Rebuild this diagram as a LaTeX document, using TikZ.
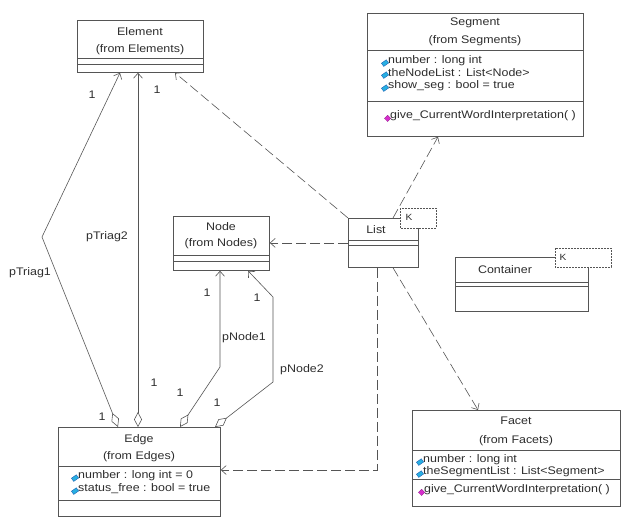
\documentclass[tikz,border=0pt]{standalone}
\usepackage{fontspec}
\setmainfont{Liberation Sans}[FakeStretch=1.13]
\usetikzlibrary{arrows.meta,positioning,calc}
\definecolor{linecolor}{RGB}{85,85,85}
\definecolor{textcolor}{RGB}{45,45,45}
\definecolor{attrcolor}{RGB}{40,175,225}
\definecolor{attrdark}{RGB}{20,80,170}
\definecolor{opcolor}{RGB}{215,45,205}
\tikzset{
  umltext/.style  = {font=\fontsize{11}{13}\selectfont, text=textcolor, inner sep=0pt},
  classbox/.style = {draw=linecolor, line width=0.8pt, fill=white, inner sep=0pt, anchor=north west},
  sep/.style      = {draw=linecolor, line width=0.8pt},
  tmpltab/.style  = {draw=linecolor, line width=0.6pt, dash pattern=on 2pt off 1pt, fill=white},
  attricon/.style = {rectangle, minimum width=6pt, minimum height=4pt, inner sep=0pt, rotate=35,
                     fill=attrcolor, draw=attrdark, line width=0.3pt},
  opicon/.style   = {rectangle, minimum size=4.5pt, inner sep=0pt, rotate=45,
                     fill=opcolor, draw=opcolor!70!black, line width=0.3pt},
  attr/.style     = {umltext, anchor=west, label={[attricon, label distance=0.5pt]left:{}}},
  oper/.style     = {umltext, anchor=west, label={[opicon, label distance=1pt]left:{}}},
  mult/.style     = {umltext},
  role/.style     = {umltext},
  assoc/.style    = {draw=linecolor, line width=0.6pt,
                     arrows={Diamond[open,length=15pt,width=8pt]-Straight Barb[length=5pt,width=9pt]}},
  dep/.style      = {draw=linecolor, line width=0.6pt, dash pattern=on 10pt off 4pt,
                     -{Straight Barb[length=5pt,width=9pt]}}
}
% horizontal compartment line of a class box, #2 below its top edge
\newcommand{\compsep}[2]{\draw[sep] ($(#1.north west)+(0,#2)$) -- ($(#1.north east)+(0,#2)$);}

\begin{document}
\begin{tikzpicture}[x=1pt,y=-1pt]
\useasboundingbox (0,0) rectangle (624,519);

% --- class boxes ---
\node[classbox, minimum width=126pt, minimum height=52pt] (element) at (77,20) {};
\compsep{element}{38} \compsep{element}{44}
\node[umltext] (elementname) at (140,32) {Element};
\node[umltext] (elementpkg)  at (140,50) {(from Elements)};

\node[classbox, minimum width=216pt, minimum height=123pt] (segment) at (367,13) {};
\compsep{segment}{37} \compsep{segment}{88}
\node[umltext] (segmentname) at (475,23) {Segment};
\node[umltext] (segmentpkg)  at (475,41) {(from Segments)};
\foreach \y/\txt [count=\i] in {61/{number : long int},
                                73/{theNodeList : List<Node>},
                                86/{show\_seg : bool = true}}{
  \node[attr] (segattr\i) at (388,\y) {\txt};
}
\node[oper] (segop) at (390,116) {give\_CurrentWordInterpretation( )};

\node[classbox, minimum width=96pt, minimum height=54pt] (node) at (173,216) {};
\compsep{node}{39} \compsep{node}{45}
\node[umltext] (nodename) at (221,227) {Node};
\node[umltext] (nodepkg)  at (221,244) {(from Nodes)};

\node[classbox, minimum width=70pt, minimum height=49pt] (list) at (348,218) {};
\compsep{list}{22} \compsep{list}{27}
\node[umltext] (listname) at (376,230) {List};
\draw[tmpltab] (400,208) rectangle (436,228);
\node[umltext, font=\fontsize{9}{10}\selectfont] (listparam) at (409,217) {K};

\node[classbox, minimum width=133pt, minimum height=54pt] (container) at (455,257) {};
\compsep{container}{25} \compsep{container}{29}
\node[umltext] (containername) at (505,270) {Container};
\draw[tmpltab] (555,248) rectangle (611,267);
\node[umltext, font=\fontsize{9}{10}\selectfont] (containerparam) at (563,257) {K};

\node[classbox, minimum width=162pt, minimum height=89pt] (edge) at (58,427) {};
\compsep{edge}{39} \compsep{edge}{73}
\node[umltext] (edgename) at (139,440) {Edge};
\node[umltext] (edgepkg)  at (139,457) {(from Edges)};
\node[attr] (edgeattr1) at (78,476) {number : long int = 0};
\node[attr] (edgeattr2) at (78,489) {status\_free : bool = true};

\node[classbox, minimum width=208pt, minimum height=96pt] (facet) at (412,410) {};
\compsep{facet}{40} \compsep{facet}{69}
\node[umltext] (facetname) at (516,421) {Facet};
\node[umltext] (facetpkg)  at (516,441) {(from Facets)};
\node[attr] (facetattr1) at (423,460) {number : long int};
\node[attr] (facetattr2) at (423,472) {theSegmentList : List<Segment>};
\node[oper] (facetop) at (424,490) {give\_CurrentWordInterpretation( )};

% --- associations Edge -> Element / Node ---
\coordinate (triagbend) at (42,237);
\coordinate (nodebend1) at (220,367);
\coordinate (nodebend2a) at (273,382);
\coordinate (nodebend2b) at (273,297);
\draw[assoc] ($(edge.north west)+(60,0)$) -- (triagbend) -- ($(element.south west)+(43,0)$);
\draw[assoc] ($(edge.north west)+(80,0)$) -- ($(element.south west)+(61,0)$);
\draw[assoc] ($(edge.north west)+(122,0)$) -- (nodebend1) -- ($(node.south west)+(47,0)$);
\draw[assoc] ($(edge.north west)+(157,0)$) -- (nodebend2a) -- (nodebend2b) -- ($(node.south west)+(75,0)$);

% role names
\node[role] (ptriag1) at (30,273)  {pTriag1};
\node[role] (ptriag2) at (107,237) {pTriag2};
\node[role] (pnode1)  at (244,338) {pNode1};
\node[role] (pnode2)  at (302,370) {pNode2};

% multiplicities
\foreach \x/\y [count=\k] in {92/95, 157/90, 102/417, 154/383, 180/393, 217/403, 207/293, 257/298}{
  \node[mult] (mult\k) at (\x,\y) {1};
}

% --- dependencies of List ---
\draw[dep] (list.north west) -- ($(element.south west)+(98,0)$);
\draw[dep] ($(list.north west)+(45,0)$) -- ($(segment.south west)+(71,0)$);
\draw[dep] (list.west) -- (list.west -| node.east);
\draw[dep] ($(list.south west)+(45,0)$) -- ($(facet.north west)+(66,0)$);
\draw[dep] ($(list.south west)+(29,0)$) |- ($(edge.north east)+(0,43)$);

\end{tikzpicture}
\end{document}
